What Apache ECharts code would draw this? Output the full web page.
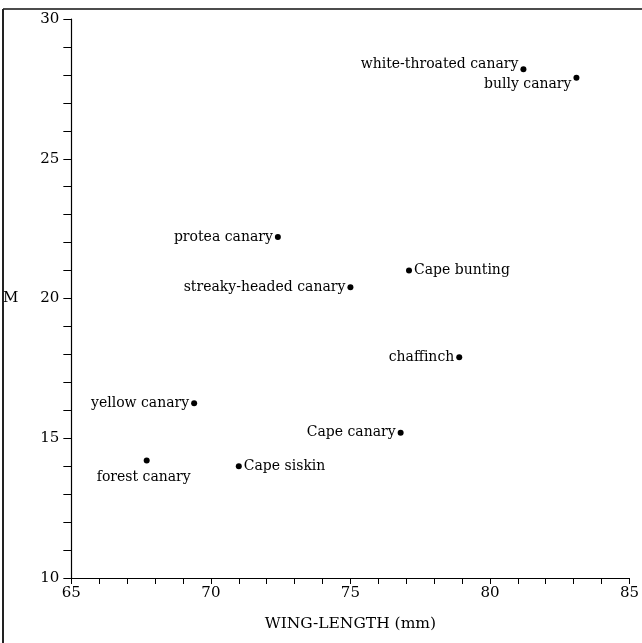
<!DOCTYPE html>
<html>
<head>
<meta charset="utf-8">
<script src="https://cdn.jsdelivr.net/npm/echarts@6/dist/echarts.min.js"></script>
<style>
  html, body { margin: 0; padding: 0; background: #fff; }
  #chart { width: 642px; height: 643px; }
</style>
</head>
<body>
<div id="chart"></div>
<script>
// ---- data ----
const species = [
  'white-throated canary', 'bully canary', 'protea canary', 'Cape bunting',
  'streaky-headed canary', 'chaffinch', 'yellow canary', 'Cape canary',
  'forest canary', 'Cape siskin'
];
const wingLength = [81.2, 83.1, 72.4, 77.1, 75.0, 78.9, 69.4, 76.8, 67.7, 71.0];
const mValues    = [28.2, 27.9, 22.2, 21.0, 20.4, 17.9, 16.25, 15.2, 14.2, 14.0];
const xTicks = [65, 70, 75, 80, 85];
const yTicks = [10, 15, 20, 25, 30];

// ---- label placement (style only) ----
const labelStyle = {
  'white-throated canary': { position: 'left', distance: 2, offset: [0, -5] },
  'bully canary':          { position: 'left', distance: 2, offset: [0, 7] },
  'Cape bunting':          { position: 'right', distance: 2 },
  'Cape siskin':           { position: 'right', distance: 2 },
  'forest canary':         { position: 'bottom', distance: 7, offset: [-3, 0] }
};

const FONT = 'DejaVu Serif';
const INK = '#000';
const chart = echarts.init(document.getElementById('chart'), null, { renderer: 'canvas' });

const points = species.map((s, i) => {
  const ls = labelStyle[s] || { position: 'left', distance: 2 };
  return {
    name: s,
    value: [wingLength[i], mValues[i]],
    label: Object.assign({ show: true, color: INK }, ls)
  };
});

chart.setOption({
  animation: false,
  backgroundColor: '#fff',
  grid: { left: 68, right: 12, top: 19, bottom: 65, containLabel: false },
  xAxis: {
    type: 'value',
    min: xTicks[0], max: xTicks[xTicks.length - 1], interval: 5,
    name: 'WING-LENGTH (mm)',
    nameLocation: 'middle', nameGap: 38,
    nameTextStyle: { fontFamily: FONT, fontSize: 15.5, color: INK },
    axisLine: { show: true, onZero: false, lineStyle: { color: INK, width: 1.2 } },
    axisTick: { show: true, inside: false, length: 6, lineStyle: { color: INK, width: 1 } },
    minorTick: { show: true, splitNumber: 5, length: 6, lineStyle: { color: INK, width: 1 } },
    axisLabel: { margin: 8, fontFamily: FONT, fontSize: 15, color: INK,
      formatter: v => xTicks.includes(v) ? String(v) : '' },
    splitLine: { show: false }
  },
  yAxis: {
    type: 'value',
    min: yTicks[0], max: yTicks[yTicks.length - 1], interval: 5,
    name: 'M',
    nameLocation: 'middle', nameGap: 53, nameRotate: 0,
    nameTextStyle: { fontFamily: FONT, fontSize: 15, color: INK },
    axisLine: { show: true, onZero: false, lineStyle: { color: INK, width: 1.2 } },
    axisTick: { show: true, inside: false, length: 8, lineStyle: { color: INK, width: 1 } },
    minorTick: { show: true, splitNumber: 5, length: 8, lineStyle: { color: INK, width: 1 } },
    axisLabel: { margin: 12, fontFamily: FONT, fontSize: 15, color: INK,
      formatter: v => yTicks.includes(v) ? String(v) : '' },
    splitLine: { show: false }
  },
  graphic: [
    { type: 'line', shape: { x1: 3, y1: 9, x2: 642, y2: 9 }, style: { stroke: '#111', lineWidth: 1.5 } },
    { type: 'line', shape: { x1: 3, y1: 9, x2: 3, y2: 643 }, style: { stroke: '#222', lineWidth: 2 } }
  ],
  series: [{
    type: 'scatter',
    symbol: 'circle',
    symbolSize: 6,
    itemStyle: { color: INK, opacity: 1 },
    label: { fontFamily: FONT, fontSize: 14, color: INK,
      formatter: p => p.name },
    emphasis: { disabled: true },
    data: points
  }]
});
</script>
</body>
</html>
